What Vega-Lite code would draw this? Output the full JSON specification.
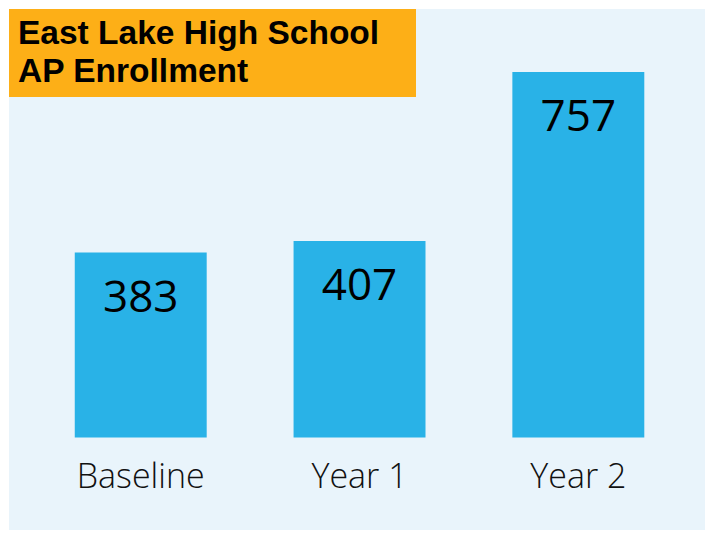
{
  "$schema": "https://vega.github.io/schema/vega-lite/v6.json",
  "width": 696,
  "height": 521,
  "autosize": {"type": "none"},
  "padding": {"left": 9, "top": 9, "right": 2, "bottom": 3},
  "background": "#ffffff",
  "config": {
    "view": {"fill": "#e9f4fb", "stroke": null},
    "font": "Open Sans"
  },
  "data": {
    "values": [
      {"period": "Baseline", "enrollment": 383},
      {"period": "Year 1", "enrollment": 407},
      {"period": "Year 2", "enrollment": 757}
    ]
  },
  "encoding": {
    "x": {
      "field": "period",
      "type": "nominal",
      "sort": null,
      "scale": {"paddingInner": 0.397, "paddingOuter": 0.289, "align": 0.52},
      "axis": {
        "title": null,
        "labelAngle": 0,
        "labelFont": "Open Sans",
        "labelFontSize": 34,
        "labelFontWeight": 300,
        "labelColor": "#111111",
        "labelBaseline": "alphabetic",
        "labelPadding": 0,
        "offset": -43,
        "domain": false,
        "ticks": false,
        "tickSize": 0,
        "grid": false
      }
    },
    "y": {
      "field": "enrollment",
      "type": "quantitative",
      "scale": {"domain": [-191.6, 887.5], "zero": false, "nice": false},
      "axis": null
    }
  },
  "layer": [
    {
      "mark": {"type": "bar", "color": "#29b2e7"},
      "encoding": {
        "y2": {"datum": 0},
        "color": {
          "datum": "AP Enrollment",
          "scale": {"range": ["#29b2e7"]},
          "legend": {
            "title": ["East Lake High School", "AP Enrollment"],
            "orient": "none",
            "legendX": 0,
            "legendY": 0,
            "titleOrient": "left",
            "titleAnchor": "start",
            "titleFont": "Liberation Sans",
            "titleFontSize": 33.5,
            "titleFontWeight": "bold",
            "titleColor": "#000000",
            "titleLineHeight": 37.5,
            "titleLimit": 1000,
            "titlePadding": 26,
            "fillColor": "#fdaf17",
            "strokeColor": null,
            "padding": 9,
            "symbolSize": 0,
            "symbolOpacity": 0,
            "symbolStrokeWidth": 0,
            "labelExpr": "''",
            "labelFontSize": 1,
            "labelOffset": 0
          }
        }
      }
    },
    {
      "mark": {
        "type": "text",
        "font": "Open Sans",
        "fontSize": 44,
        "fontWeight": 500,
        "color": "#000000",
        "baseline": "alphabetic",
        "align": "center",
        "dy": 59
      },
      "encoding": {
        "text": {"field": "enrollment", "type": "quantitative"}
      }
    }
  ]
}
